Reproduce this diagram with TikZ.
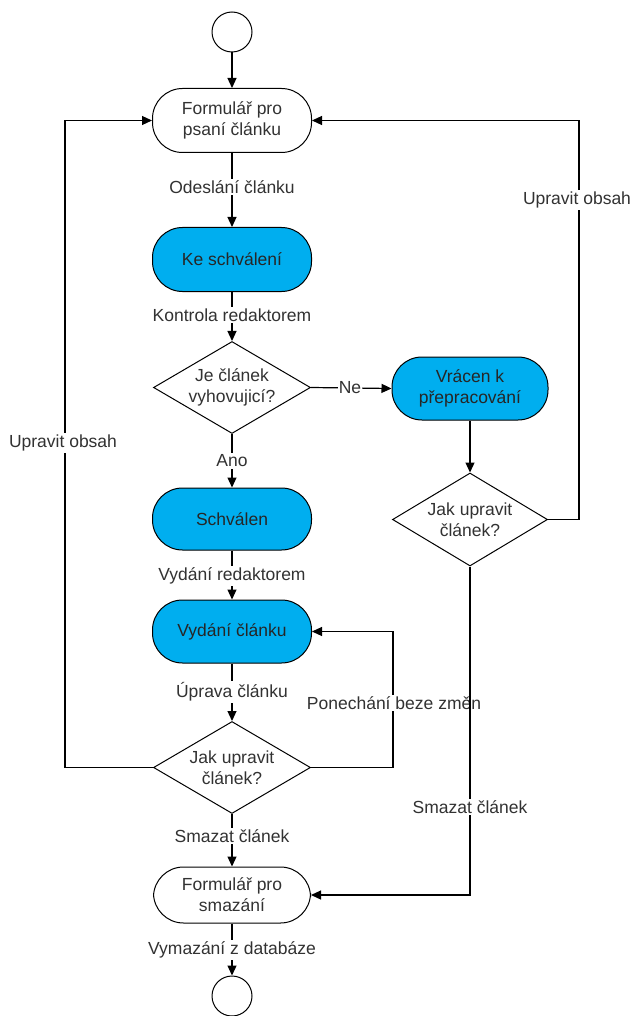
\documentclass[tikz,border=0pt]{standalone}
\usepackage{fontspec}
\setmainfont{Liberation Sans}
\usetikzlibrary{shapes.geometric,arrows.meta}
\definecolor{stateblue}{RGB}{0,174,239}
\definecolor{txt}{RGB}{50,50,50}
\begin{document}
\begin{tikzpicture}[x=1pt,y=-1pt,
  font=\fontsize{17.5}{21}\selectfont,
  every node/.style={text=txt},
  state/.style={draw=black,line width=1pt,rectangle,rounded corners=30pt,
    minimum width=159pt,minimum height=64pt,align=center,inner sep=2pt},
  active/.style={state,fill=stateblue,text=black!85},
  decision/.style={draw=black,line width=1pt,diamond,aspect=1.7,inner sep=0pt,
    minimum width=157pt,minimum height=92pt,align=center},
  terminal/.style={draw=black,line width=1pt,circle,minimum size=40pt,inner sep=0pt},
  lbl/.style={fill=white,inner sep=1.5pt},
  conn/.style={draw=black,line width=1.2pt,-{Triangle[length=10pt,width=9pt]}}]
\useasboundingbox (0,0) rectangle (635,1016);

% nodes
\node[terminal] (start) at (232,32) {};
\node[state] (f1) at (232,120.5) {Formulář pro\\psaní článku};
\node[active] (ke) at (232,259.5) {Ke schválení};
\node[decision] (d1) at (232,387.5) {Je článek\\vyhovujicí?};
\node[active,minimum width=156pt,minimum height=63pt] (vr) at (470,388.5) {Vrácen k\\přepracování};
\node[active,minimum height=62pt] (sch) at (232,519) {Schválen};
\node[decision,minimum width=155pt,minimum height=93pt] (d3) at (470,519.5) {Jak upravit\\článek?};
\node[active,minimum height=63pt] (vyd) at (232,631.5) {Vydání článku};
\node[decision] (d2) at (232,767.5) {Jak upravit\\článek?};
\node[state,minimum width=157pt,minimum height=56pt] (f2) at (232,895) {Formulář pro\\smazání};
\node[terminal] (end) at (232,996) {};

% main column
\draw[conn] (start) -- (f1);
\draw[conn] (f1) -- (ke);
\draw[conn] (ke) -- (d1);
\draw[conn] (d1) -- (sch);
\draw[conn] (sch) -- (vyd);
\draw[conn] (vyd) -- (d2);
\draw[conn] (d2) -- (f2);
\draw[conn] (f2) -- (end);
\draw[conn] (d1.east) -- (vr.west);
\draw[conn] (vr) -- (d3);

% loops back
\draw[conn] (d3.east) -- ++(31,0) |- (f1.east);
\draw[conn] (d2.west) -- ++(-88,0) |- (f1.west);
\draw[conn] (d2.east) -- ++(82,0) |- (vyd.east);

% labels
\node[lbl] (l1) at (232,187) {Odeslání článku};
\node[lbl] (l2) at (232,315) {Kontrola redaktorem};
\node[lbl,inner sep=0.5pt] (l3) at (350,387.5) {Ne};
\node[lbl] (l4) at (232,461) {Ano};
\node[lbl] (l5) at (232,576) {Vydání redaktorem};
\node[lbl] (l6) at (232,692) {Úprava článku};
\node[lbl] (l7) at (394,703) {Ponechání beze změn};
\node[lbl] (l8) at (232,836) {Smazat článek};
\node[lbl] (l9) at (577,200) {Upravit obsah};
\node[lbl] (l10) at (63,443) {Upravit obsah};
\node[lbl] (l11) at (232,950) {Vymazání z databáze};

% deletion path from the right decision
\draw[conn] (d3.south) |- (f2.east);
\node[lbl] (l12) at (470,807) {Smazat článek};
\end{tikzpicture}
\end{document}
